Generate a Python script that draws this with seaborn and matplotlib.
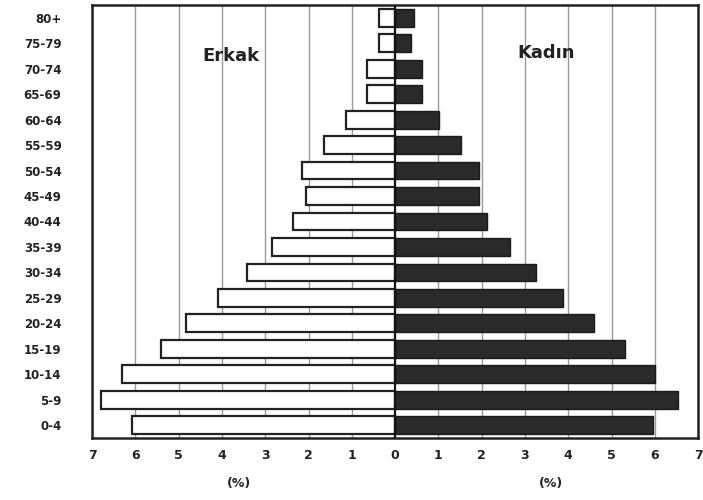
import matplotlib
matplotlib.use("Agg")
import matplotlib.pyplot as plt
import seaborn as sns
import numpy as np
import pandas as pd

age_groups = ["80+", "75-79", "70-74", "65-69", "60-64", "55-59", "50-54", "45-49",
              "40-44", "35-39", "30-34", "25-29", "20-24", "15-19", "10-14", "5-9", "0-4"]
male = [0.37, 0.37, 0.64, 0.64, 1.14, 1.64, 2.14, 2.06,
        2.36, 2.85, 3.41, 4.10, 4.82, 5.41, 6.30, 6.80, 6.07]
female = [0.44, 0.36, 0.63, 0.63, 1.02, 1.52, 1.93, 1.93,
          2.13, 2.65, 3.25, 3.88, 4.60, 5.31, 6.00, 6.54, 5.96]
xticks = [-7, -6, -5, -4, -3, -2, -1, 0, 1, 2, 3, 4, 5, 6, 7]
xticklabels = ["7", "6", "5", "4", "3", "2", "1", "0", "1", "2", "3", "4", "5", "6", "7"]

sns.set_style("white")
plt.rcParams['font.family'] = ['DejaVu Sans']

df = pd.DataFrame({"age": age_groups,
                   "male": [-v for v in male],
                   "female": female})

fig = plt.figure(figsize=(7.03, 5.0), dpi=100)
ax = fig.add_axes([0.131, 0.124, 0.862, 0.866])

for x in xticks:
    if x != 0:
        ax.axvline(x, color="#9a9a9a", linewidth=1.0, zorder=0)

sns.barplot(data=df, x="male", y="age", order=age_groups, color="white",
            edgecolor="#222222", linewidth=1.6, width=0.7, ax=ax, zorder=2,
            saturation=1)
sns.barplot(data=df, x="female", y="age", order=age_groups, color="#2a2a2a",
            edgecolor="#1a1a1a", linewidth=1.0, width=0.7, ax=ax, zorder=2,
            saturation=1)
ax.axvline(0, color="#111111", linewidth=1.6, zorder=3)

ax.set_xlim(-7, 7)
ax.set_ylim(16.5, -0.5)
ax.set_xticks(xticks)
ax.set_xticklabels(xticklabels, fontsize=9, fontweight="bold", color="#222222")
ax.tick_params(axis="x", length=0, pad=8)
ax.tick_params(axis="y", length=0, pad=22)
for lbl in ax.get_yticklabels():
    lbl.set_fontsize(8.5)
    lbl.set_fontweight("bold")
    lbl.set_color("#222222")
ax.set_xlabel("")
ax.set_ylabel("")

for s in ax.spines.values():
    s.set_visible(True)
    s.set_color("#222222")
    s.set_linewidth(1.8)

ax.text(-3.8, 1.5, "Erkak", fontsize=13, fontweight="bold", color="#222222",
        ha="center", va="center")
ax.text(3.5, 1.4, "Kadın", fontsize=13, fontweight="bold", color="#222222",
        ha="center", va="center")

ax.text(-3.6, -0.09, "(%)", transform=ax.get_xaxis_transform(), fontsize=9,
        fontweight="bold", ha="center", va="top", color="#222222")
ax.text(3.6, -0.09, "(%)", transform=ax.get_xaxis_transform(), fontsize=9,
        fontweight="bold", ha="center", va="top", color="#222222")

fig.savefig("out.png", dpi=100)
